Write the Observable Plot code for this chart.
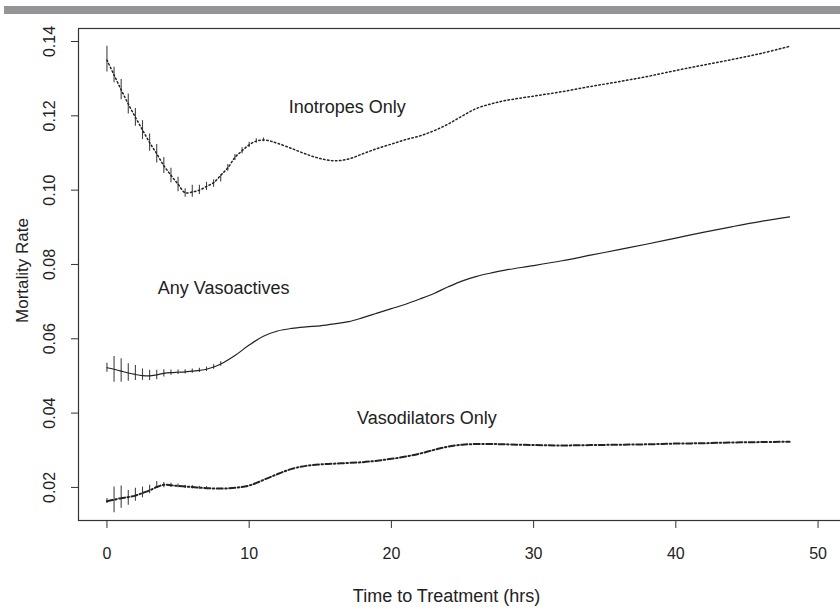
<!DOCTYPE html>
<html><head><meta charset="utf-8">
<script src="https://cdn.jsdelivr.net/npm/d3@7"></script>
<script src="https://cdn.jsdelivr.net/npm/@observablehq/plot@0.6"></script>
<style>
body{margin:0;background:#fff;}
#wrap{position:relative;width:840px;height:609px;overflow:hidden;background:#fff;}
#bar{position:absolute;left:4px;top:6px;width:836px;height:8px;background:#959599;}
#chart{position:absolute;left:0;top:0;}
</style></head><body><div id="wrap"><div id="bar"></div><div id="chart"></div></div>
<script>
// ---- data ----
const xTicks = [0, 10, 20, 30, 40, 50];
const yTicks = [0.02, 0.04, 0.06, 0.08, 0.10, 0.12, 0.14];
const seriesNames = ["Inotropes Only", "Any Vasoactives", "Vasodilators Only"];

// Inotropes Only
const inoT = [0,0.5,1,1.5,2,2.5,3,3.5,4,4.5,5,5.5,6,6.5,7,7.5,8,8.5,9,9.5,10,10.5,11,11.5,12,13,14,15,16,17,18,19,20,21,22,23,24,25,26,27,28,30,32,34,36,38,40,42,44,46,48];
const inoV = [0.1350,0.1310,0.1270,0.1232,0.1196,0.1162,0.1128,0.1098,0.1066,0.1040,0.1016,0.0993,0.0995,0.1000,0.1010,0.1020,0.1040,0.1060,0.1088,0.1106,0.1122,0.1132,0.1135,0.1132,0.1126,0.1112,0.1097,0.1085,0.1079,0.1084,0.1098,0.1112,0.1124,0.1136,0.1146,0.1160,0.1178,0.1200,0.1220,0.1232,0.1241,0.1253,0.1265,0.1279,0.1292,0.1306,0.1322,0.1337,0.1352,0.1368,0.1387];
const inoBarT  = [0,0.5,1,1.5,2,2.5,3,3.5,4,4.5,5,5.5,6,6.5,7,7.5,8,8.5,9,9.5,10,10.5,11];
const inoBarLo = [0.1318,0.1289,0.1243,0.1205,0.1172,0.1136,0.1105,0.1073,0.1045,0.1020,0.0996,0.0981,0.0981,0.0988,0.0999,0.1008,0.1022,0.1051,0.1080,0.1098,0.1115,0.1126,0.1130];
const inoBarHi = [0.1387,0.1331,0.1298,0.1259,0.1220,0.1187,0.1151,0.1123,0.1088,0.1059,0.1035,0.1004,0.1013,0.1013,0.1021,0.1028,0.1040,0.1069,0.1096,0.1114,0.1129,0.1138,0.1140];

// Any Vasoactives
const vasT = [0,0.5,1,1.5,2,2.5,3,3.5,4,4.5,5,5.5,6,6.5,7,7.5,8,9,10,11,12,13,14,15,16,17,18,19,20,21,22,23,24,25,26,27,28,30,32,34,36,38,40,42,44,46,48];
const vasV = [0.0522,0.0518,0.0513,0.0508,0.0504,0.0501,0.0500,0.0503,0.0507,0.0509,0.0510,0.0511,0.0513,0.0515,0.0518,0.0524,0.0532,0.0555,0.0583,0.0607,0.0621,0.0628,0.0632,0.0635,0.0640,0.0646,0.0657,0.0669,0.0681,0.0693,0.0707,0.0722,0.0740,0.0756,0.0768,0.0777,0.0785,0.0797,0.0810,0.0825,0.0840,0.0855,0.0871,0.0887,0.0902,0.0916,0.0928];
const vasBarT  = [0,0.5,1,1.5,2,2.5,3,3.5,4,4.5,5,5.5,6,6.5,7,7.5,8];
const vasBarLo = [0.0510,0.0483,0.0483,0.0486,0.0488,0.0488,0.0488,0.0490,0.0497,0.0502,0.0504,0.0505,0.0507,0.0509,0.0512,0.0518,0.0526];
const vasBarHi = [0.0534,0.0552,0.0546,0.0533,0.0528,0.0519,0.0515,0.0515,0.0517,0.0516,0.0516,0.0517,0.0519,0.0521,0.0524,0.0530,0.0538];

// Vasodilators Only
const vdT = [0,0.5,1,1.5,2,2.5,3,3.5,4,4.5,5,6,7,8,9,10,11,12,13,14,15,16,17,18,19,20,21,22,23,24,25,26,27,28,30,32,34,36,38,40,42,44,46,48];
const vdV = [0.0163,0.0167,0.0171,0.0174,0.0178,0.0185,0.0192,0.0201,0.0207,0.0206,0.0204,0.0201,0.0198,0.0197,0.0199,0.0205,0.0220,0.0236,0.0250,0.0258,0.0262,0.0264,0.0266,0.0268,0.0272,0.0277,0.0283,0.0291,0.0301,0.0310,0.0315,0.0317,0.0317,0.0316,0.0314,0.0313,0.0314,0.0315,0.0316,0.0318,0.0319,0.0321,0.0322,0.0323];
const vdBarT  = [0,0.5,1,1.5,2,2.5,3,3.5,4,4.5,5,5.5,6,6.5,7];
const vdBarLo = [0.0157,0.0132,0.0144,0.0152,0.0163,0.0172,0.0183,0.0199,0.0199,0.0200,0.0199,0.0197,0.0196,0.0195,0.0194];
const vdBarHi = [0.0170,0.0201,0.0204,0.0192,0.0198,0.0201,0.0206,0.0216,0.0213,0.0211,0.0209,0.0206,0.0205,0.0203,0.0202];

// in-plot series labels (data coordinates)
const labelT = [16.9, 8.2, 22.5];
const labelV = [0.1222, 0.0735, 0.0386];

// ---- build tables ----
const mk = (name, T, V) => T.map((t, i) => ({series: name, t, v: V[i]}));
const mkBars = (name, T, L, H) => T.map((t, i) => ({series: name, t, lo: L[i], hi: H[i]}));
const ino = mk(seriesNames[0], inoT, inoV);
const vas = mk(seriesNames[1], vasT, vasV);
const vd = mk(seriesNames[2], vdT, vdV);
const bars = [
  ...mkBars(seriesNames[0], inoBarT, inoBarLo, inoBarHi),
  ...mkBars(seriesNames[1], vasBarT, vasBarLo, vasBarHi),
  ...mkBars(seriesNames[2], vdBarT, vdBarLo, vdBarHi)
];
const labels = seriesNames.map((s, i) => ({text: s, t: labelT[i], v: labelV[i]}));

const ink = "#222";
const chart = Plot.plot({
  width: 840,
  height: 609,
  marginLeft: 78,
  marginRight: -6,
  marginTop: 28,
  marginBottom: 89,
  style: {fontFamily: "'Liberation Sans', Arial, sans-serif", background: "transparent", color: ink},
  x: {domain: [-2, 52]},
  y: {domain: [0.0111, 0.1435]},
  marks: [
    Plot.frame({stroke: "#333", strokeWidth: 1.2}),
    Plot.axisX({ticks: xTicks, tickSize: 8, tickPadding: 19, fontSize: 16, label: null, stroke: "#333"}),
    Plot.axisY({ticks: yTicks, tickSize: 7, tickFormat: () => "", label: null, stroke: "#333"}),
    Plot.text(yTicks, {y: d => d, text: d3.format(".2f"), frameAnchor: "left", rotate: -90, dx: -29, textAnchor: "middle", fontSize: 16, fill: ink}),
    Plot.text(["Mortality Rate"], {text: d => d, frameAnchor: "left", rotate: -90, dx: -56, dy: -4, textAnchor: "middle", fontSize: 17, fill: ink}),
    Plot.text(["Time to Treatment (hrs)"], {text: d => d, frameAnchor: "bottom", dx: -16, dy: 81, fontSize: 18, fill: ink}),
    Plot.ruleX(bars, {x: "t", y1: "lo", y2: "hi", stroke: "#444", strokeWidth: 1.1}),
    Plot.line(ino, {x: "t", y: "v", curve: "catmull-rom", stroke: ink, strokeWidth: 1.5, strokeDasharray: "1.5,2.5"}),
    Plot.line(vas, {x: "t", y: "v", curve: "catmull-rom", stroke: ink, strokeWidth: 1.2}),
    Plot.line(vd, {x: "t", y: "v", curve: "catmull-rom", stroke: ink, strokeWidth: 2, strokeDasharray: "6,2.5,1.5,2.5"}),
    Plot.text(labels, {x: "t", y: "v", text: "text", fontSize: 18, fill: ink})
  ]
});
document.getElementById("chart").appendChild(chart);
</script>
</body></html>
